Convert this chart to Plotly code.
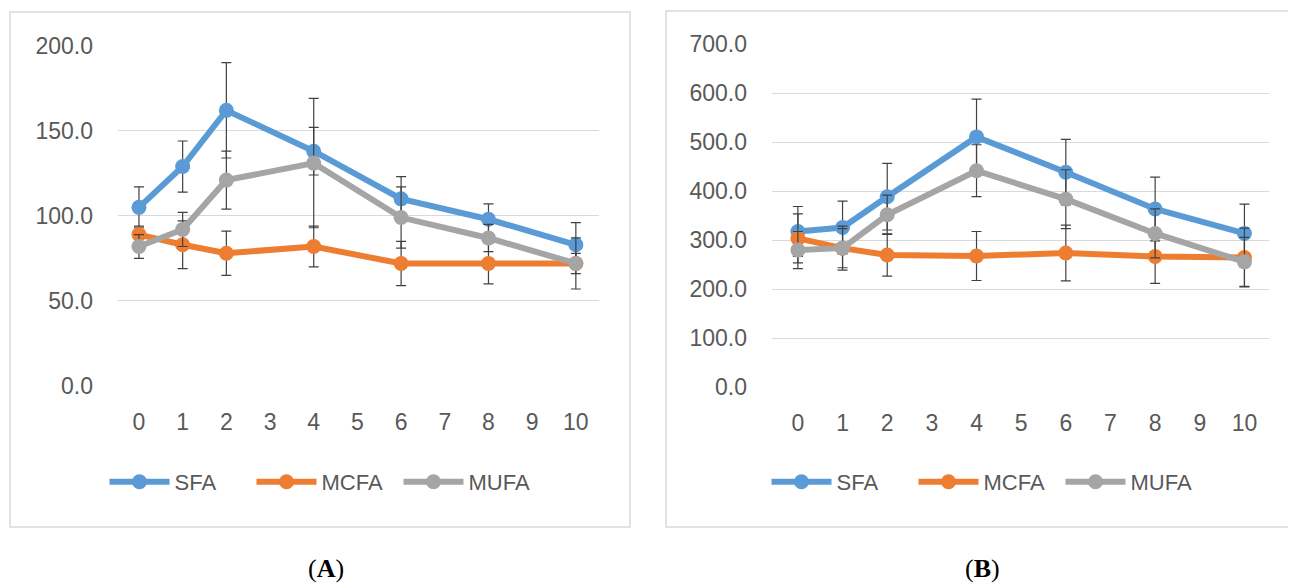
import plotly.graph_objects as go

# ---------------- data ----------------
days = [0, 1, 2, 4, 6, 8, 10]
x_ticks = list(range(0, 11))

# Panel A
sfa_a = [105, 129, 162, 138, 110, 98, 83]
sfa_a_err = [12, 15, 28, 14, 13, 9, 13]
mcfa_a = [89, 83, 78, 82, 72, 72, 72]
mcfa_a_err = [5, 14, 13, 12, 13, 12, 15]
mufa_a = [82, 92, 121, 131, 99, 87, 72]
mufa_a_err = [7, 10, 17, 38, 18, 8, 6]
yticks_a = [0, 50, 100, 150, 200]

# Panel B
sfa_b = [318, 326, 389, 511, 439, 364, 314]
sfa_b_err = [51, 54, 68, 77, 67, 65, 60]
mcfa_b = [304, 284, 270, 268, 274, 267, 265]
mcfa_b_err = [50, 40, 43, 50, 57, 55, 60]
mufa_b = [280, 284, 352, 442, 384, 314, 256]
mufa_b_err = [38, 45, 40, 53, 60, 50, 50]
yticks_b = [0, 100, 200, 300, 400, 500, 600, 700]

series_names = ["SFA", "MCFA", "MUFA"]
colors = ["#5B9BD5", "#ED7D31", "#A5A5A5"]

W, H = 1296, 588
OX, OY = -8, -8   # compensate the page's default body margin
FONT = "Liberation Sans"
TXT = "#595959"
GRID = "#D9D9D9"

fig = go.Figure()

panels = [
    ("x", "y", "legend", [sfa_a, mcfa_a, mufa_a], [sfa_a_err, mcfa_a_err, mufa_a_err]),
    ("x2", "y2", "legend2", [sfa_b, mcfa_b, mufa_b], [sfa_b_err, mcfa_b_err, mufa_b_err]),
]
for xa, ya, lg, vals, errs in panels:
    for name, col, v, e in zip(series_names, colors, vals, errs):
        fig.add_trace(go.Scatter(
            x=days, y=v, name=name, mode="lines+markers",
            line=dict(color=col, width=6),
            marker=dict(color=col, size=15),
            error_y=dict(type="data", array=e, visible=True,
                         color="#404040", thickness=1.2, width=5),
            xaxis=xa, yaxis=ya, legend=lg,
        ))

def px_x(p):
    return (p + OX) / W

def px_y(p):
    return 1 - (p + OY) / H

xaxis_common = dict(
    showgrid=False, zeroline=False, showline=False, automargin=False,
    tickfont=dict(family=FONT, size=23, color=TXT),
    ticks="", tickmode="array", tickvals=x_ticks, ticklabelstandoff=20,
)
yaxis_common = dict(
    showgrid=True, gridcolor=GRID, gridwidth=1, zeroline=False, showline=False,
    automargin=False, ticks="", tickmode="array", tickformat=".1f",
    ticklabelstandoff=24, tickfont=dict(family=FONT, size=23, color=TXT),
)
legend_common = dict(
    orientation="h", yanchor="middle", xanchor="center",
    font=dict(family=FONT, size=22, color=TXT),
    bgcolor="rgba(0,0,0,0)", itemwidth=60, tracegroupgap=0,
    entrywidth=72, entrywidthmode="pixels",
)

fig.update_layout(
    width=W, height=H,
    margin=dict(l=0, r=0, t=0, b=0, pad=0, autoexpand=False),
    paper_bgcolor="white", plot_bgcolor="white",
    showlegend=True,
    xaxis=dict(domain=[px_x(118), px_x(599)], range=[-0.48, 10.53], anchor="y",
               **xaxis_common),
    yaxis=dict(domain=[px_y(386), px_y(45.7)], range=[0, 200], tickvals=yticks_a,
               anchor="x", **yaxis_common),
    xaxis2=dict(domain=[px_x(772), px_x(1269)], range=[-0.58, 10.55], anchor="y2",
                **xaxis_common),
    yaxis2=dict(domain=[px_y(387.3), px_y(44.3)], range=[0, 700], tickvals=yticks_b,
                anchor="x2", **yaxis_common),
    legend=dict(x=px_x(325), y=px_y(482), **legend_common),
    legend2=dict(x=px_x(987), y=px_y(482), **legend_common),
    shapes=[
        dict(type="rect", xref="paper", yref="paper",
             x0=px_x(10), x1=px_x(630), y0=px_y(527), y1=px_y(12),
             line=dict(color=GRID, width=1.5), fillcolor="rgba(0,0,0,0)", layer="below"),
        dict(type="rect", xref="paper", yref="paper",
             x0=px_x(666), x1=px_x(1290), y0=px_y(527), y1=px_y(11),
             line=dict(color=GRID, width=1.5), fillcolor="rgba(0,0,0,0)", layer="below"),
    ],
    annotations=[
        dict(text="(<b>A</b>)", x=px_x(326), y=px_y(568), xref="paper", yref="paper",
             showarrow=False, xanchor="center", yanchor="middle",
             font=dict(family="Liberation Serif", size=26, color="black")),
        dict(text="(<b>B</b>)", x=px_x(982), y=px_y(568), xref="paper", yref="paper",
             showarrow=False, xanchor="center", yanchor="middle",
             font=dict(family="Liberation Serif", size=26, color="black")),
    ],
)

fig.write_html("out.html")
